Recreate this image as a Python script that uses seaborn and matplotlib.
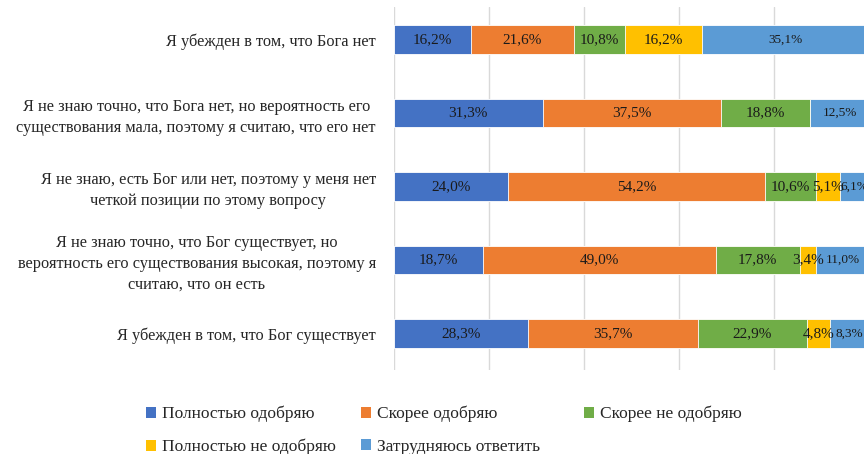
import matplotlib.pyplot as plt
from matplotlib.patches import Patch
import seaborn as sns
import pandas as pd
import numpy as np

# ===================== DATOS =====================

categories = [
    "Я убежден в том, что Бога нет",
    "Я не знаю точно, что Бога нет, но вероятность его\nсуществования мала, поэтому я считаю, что его нет",
    "Я не знаю, есть Бог или нет, поэтому у меня нет\nчеткой позиции по этому вопросу",
    "Я не знаю точно, что Бог существует, но\nвероятность его существования высокая, поэтому я\nсчитаю, что он есть",
    "Я убежден в том, что Бог существует",
]

series_names = [
    "Полностью одобряю",
    "Скорее одобряю",
    "Скорее не одобряю",
    "Полностью не одобряю",
    "Затрудняюсь ответить",
]

full_approve = [16.2, 31.3, 24.0, 18.7, 28.3]
rather_approve = [21.6, 37.5, 54.2, 49.0, 35.7]
rather_disapprove = [10.8, 18.8, 10.6, 17.8, 22.9]
full_disapprove = [16.2, 0.0, 5.1, 3.4, 4.8]
hard_to_say = [35.1, 12.5, 6.1, 11.0, 8.3]

colors = ["#4472C4", "#ED7D31", "#70AD47", "#FFC000", "#5B9BD5"]

# ===================== TABLA =====================

values = np.array([full_approve, rather_approve, rather_disapprove,
                   full_disapprove, hard_to_say])
cum = values.cumsum(axis=0)

df = pd.DataFrame({"cat": categories})
for i, name in enumerate(series_names):
    df[name] = values[i]
    df[name + "_cum"] = cum[i]

# ===================== GRÁFICO =====================

sns.set_style("white")
plt.rcParams["font.family"] = ["Liberation Serif", "DejaVu Serif"]

fig = plt.figure(figsize=(8.64, 4.54), dpi=100)
ax = fig.add_axes([394 / 864, 1 - 370 / 454, 475 / 864, 363 / 454])

# Barras apiladas: se dibuja la suma acumulada de la última a la primera
for i in reversed(range(len(series_names))):
    sns.barplot(
        data=df,
        x=series_names[i] + "_cum",
        y="cat",
        orient="h",
        color=colors[i],
        saturation=1,
        width=0.39,
        edgecolor="white",
        linewidth=0.6,
        ax=ax,
        zorder=3,
    )

# Etiquetas de datos
for i, name in enumerate(series_names):
    size = 9.5 if i == 4 else 11
    for j in range(len(categories)):
        v = values[i, j]
        if v <= 0:
            continue
        ax.text(
            cum[i, j] - v / 2, j,
            f"{v:.1f}%".replace(".", ","),
            ha="center", va="center",
            fontsize=size, color="#1a1a1a", zorder=5,
        )

ax.set_xlim(0, 100)
ax.set_ylim(4.5, -0.445)
ax.set_xticks([0, 20, 40, 60, 80, 100])
ax.set_xticklabels([])
ax.grid(axis="x", color="#d9d9d9", linewidth=1, zorder=0)
ax.set_axisbelow(True)
for side in ["top", "right", "bottom", "left"]:
    ax.spines[side].set_visible(False)
ax.axvline(0, color="#d9d9d9", linewidth=1.2, zorder=1)

ax.set_xlabel("")
ax.set_ylabel("")
ax.tick_params(axis="y", length=0, pad=13, labelsize=11.8)
ax.tick_params(axis="x", length=0)
for lbl in ax.get_yticklabels():
    lbl.set_horizontalalignment("right")
    lbl.set_multialignment("center")
    lbl.set_linespacing(1.4)

# Leyenda: una columna por posición, como en Excel (orden por filas)
handles = [Patch(facecolor=c, edgecolor="none") for c in colors]
legend_cols = [[0, 3], [1, 4], [2]]
legend_x = [146, 361, 584]
for idx, xpx in zip(legend_cols, legend_x):
    leg = fig.legend(
        [handles[k] for k in idx],
        [series_names[k] for k in idx],
        ncol=1,
        loc="upper left",
        bbox_to_anchor=(xpx / 864, 1 - 406 / 454),
        frameon=False,
        fontsize=12.5,
        handlelength=0.6,
        handleheight=0.6,
        handletextpad=0.35,
        labelspacing=0.95,
        borderaxespad=0,
        borderpad=0,
    )

fig.savefig("out.png", dpi=100)
